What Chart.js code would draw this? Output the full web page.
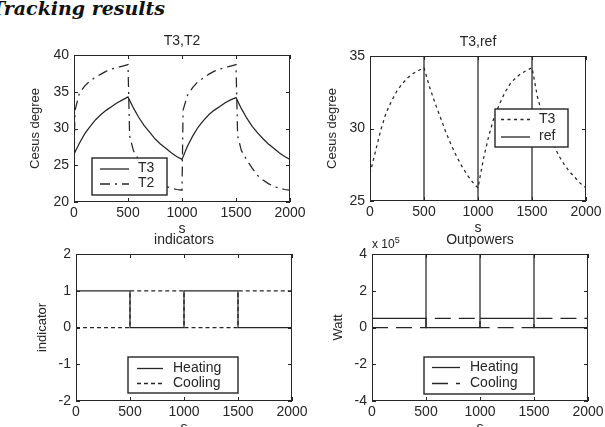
<!DOCTYPE html>
<html>
<head>
<meta charset="utf-8">
<script src="https://cdn.jsdelivr.net/npm/chart.js@4.4.0/dist/chart.umd.min.js"></script>
<style>
  html, body { margin: 0; padding: 0; background: #fff; width: 605px; height: 427px; overflow: hidden; position: relative; }
  #pageTitle { position: absolute; left: -9px; top: -3px; font: bold italic 19px "DejaVu Serif", serif; color: #111; white-space: nowrap; }
  #expo { position: absolute; left: 372px; top: 235px; font: 12px "Liberation Sans", Arial, sans-serif; color: #222; white-space: nowrap; }
  #expo sup { font-size: 9px; }
  canvas { position: absolute; }
</style>
</head>
<body>
<div id="pageTitle">Tracking results</div>
<canvas id="cT3T2"></canvas>
<canvas id="cT3ref"></canvas>
<canvas id="cInd"></canvas>
<canvas id="cPow"></canvas>
<div id="expo">x 10<sup>5</sup></div>

<script>
// time axis ticks (s)
const xTicks = [0, 500, 1000, 1500, 2000];

// T3,T2 plot
const timeS = [0, 50, 100, 150, 200, 250, 300, 350, 400, 450, 500, 550, 600, 650, 700, 750, 800, 850, 900, 950, 1000,
               1050, 1100, 1150, 1200, 1250, 1300, 1350, 1400, 1450, 1500, 1550, 1600, 1650, 1700, 1750, 1800, 1850, 1900, 1950, 2000];
const t3Value = [26.5, 28.0, 29.3, 30.3, 31.2, 31.9, 32.5, 33.0, 33.5, 33.9, 34.3,
                 32.8, 31.5, 30.4, 29.5, 28.6, 27.9, 27.3, 26.7, 26.2, 25.8,
                 27.6, 29.0, 30.2, 31.1, 31.9, 32.5, 33.0, 33.5, 33.9, 34.2,
                 32.7, 31.4, 30.3, 29.4, 28.6, 27.9, 27.3, 26.7, 26.2, 25.8];
const t2Time = [0, 10, 50, 100, 150, 200, 250, 300, 350, 400, 450, 500, 515, 550, 600, 650, 700, 750, 800, 850, 900, 950, 1000,
                1010, 1050, 1100, 1150, 1200, 1250, 1300, 1350, 1400, 1450, 1500, 1515, 1550, 1600, 1650, 1700, 1750, 1800, 1850, 1900, 1950, 2000];
const t2Value = [26.5, 32.5, 34.8, 35.8, 36.5, 37.0, 37.4, 37.8, 38.1, 38.3, 38.5, 38.7,
                 29.0, 27.0, 25.7, 24.6, 23.6, 23.0, 22.5, 22.1, 21.9, 21.7, 21.6,
                 32.5, 34.5, 35.6, 36.4, 36.9, 37.4, 37.8, 38.1, 38.3, 38.5, 38.7,
                 29.0, 27.0, 25.7, 24.6, 23.6, 23.0, 22.5, 22.1, 21.9, 21.7, 21.6];
const yTicksT3T2 = [20, 25, 30, 35, 40];

// T3,ref plot
const t3RefRun = [26.9, 28.4, 29.9, 31.1, 31.9, 32.6, 33.1, 33.5, 33.8, 34.0, 34.2,
                  32.9, 31.8, 30.8, 29.8, 28.9, 28.1, 27.4, 26.8, 26.3, 25.9,
                  27.9, 29.5, 30.8, 31.7, 32.5, 33.1, 33.5, 33.8, 34.0, 34.2,
                  32.2, 30.8, 29.7, 28.9, 28.1, 27.5, 27.0, 26.6, 26.2, 25.9];
const refTime = [0, 0, 500, 500, 1000, 1000, 1500, 1500, 2000, 2000];
const refValue = [25, 35, 35, 25, 25, 35, 35, 25, 25, 35];
const yTicksRef = [25, 30, 35];

// indicators
const indTime = [0, 500, 500, 1000, 1000, 1500, 1500, 2000];
const heatingInd = [1, 1, 0, 0, 1, 1, 0, 0];
const coolingInd = [0, 0, 1, 1, 0, 0, 1, 1];
const yTicksInd = [-2, -1, 0, 1, 2];

// outpowers (x 10^5 W)
const powHeatTime = [0, 0, 0, 500, 500, 500, 1000, 1000, 1000, 1500, 1500, 1500, 2000, 2000, 2000];
const powHeat = [-4.2, 1.1, 0.5, 0.5, 4.2, 0, 0, 4.2, 0.5, 0.5, 4.2, 0, 0, 3.3, -4.2];
const powCoolTime = [0, 500, 500, 1000, 1000, 1500, 1500, 2000];
const powCool = [0, 0, 0.5, 0.5, 0, 0, 0.5, 0.5];
const yTicksPow = [-4, -2, 0, 2, 4];

const INK = '#262626';
const FONT = '"Liberation Sans", Arial, sans-serif';

function pts(xs, ys) {
  return xs.map((x, i) => ({ x: x, y: ys[i] }));
}

function line(label, xs, ys, dash) {
  return { label: label, data: pts(xs, ys), borderColor: INK, borderWidth: 1.25, borderDash: dash, pointRadius: 0, fill: false, tension: 0 };
}

// box, inward ticks and the boxed legend
function framePlugin(spec, ox, oy) {
  return {
    id: 'frame',
    afterDraw(chart) {
      const { ctx, chartArea: a, scales } = chart;
      ctx.save();
      ctx.strokeStyle = INK;
      ctx.lineWidth = 1;
      ctx.setLineDash([]);
      ctx.strokeRect(a.left + 0.5, a.top + 0.5, a.right - a.left - 1, a.bottom - a.top - 1);
      ctx.beginPath();
      scales.x.ticks.forEach(t => {
        const px = Math.round(scales.x.getPixelForValue(t.value)) + 0.5;
        ctx.moveTo(px, a.bottom); ctx.lineTo(px, a.bottom - 4);
        ctx.moveTo(px, a.top); ctx.lineTo(px, a.top + 4);
      });
      scales.y.ticks.forEach(t => {
        const py = Math.round(scales.y.getPixelForValue(t.value)) + 0.5;
        ctx.moveTo(a.left, py); ctx.lineTo(a.left + 4, py);
        ctx.moveTo(a.right, py); ctx.lineTo(a.right - 4, py);
      });
      ctx.stroke();

      const lg = spec.legend;
      ctx.fillStyle = '#fff';
      ctx.fillRect(lg.x - ox, lg.y - oy, lg.w, lg.h);
      ctx.lineWidth = 1.4;
      ctx.strokeRect(lg.x - ox, lg.y - oy, lg.w, lg.h);
      lg.rows.forEach(row => {
        const ds = chart.data.datasets[row.ds];
        ctx.setLineDash(ds.borderDash || []);
        ctx.lineWidth = 1.3;
        ctx.beginPath();
        ctx.moveTo(lg.s0 - ox, row.y - oy + 0.5);
        ctx.lineTo(lg.s1 - ox, row.y - oy + 0.5);
        ctx.stroke();
        ctx.setLineDash([]);
        ctx.fillStyle = INK;
        ctx.font = '14px ' + FONT;
        ctx.textBaseline = 'middle';
        ctx.fillText(ds.label, lg.tx - ox, row.y - oy);
      });
      ctx.restore();
    }
  };
}

function plotChart(id, box, spec) {
  const cv = document.getElementById(id);
  const left = box.l - 75, top = box.t - 28;
  const w = box.r - box.l + 100, h = box.b - box.t + 66;
  cv.width = w; cv.height = h;
  cv.style.left = left + 'px'; cv.style.top = top + 'px';
  cv.style.width = w + 'px'; cv.style.height = h + 'px';

  new Chart(cv, {
    type: 'line',
    data: { datasets: spec.datasets },
    plugins: [framePlugin(spec, left, top)],
    options: {
      responsive: false,
      animation: false,
      devicePixelRatio: 1,
      layout: { padding: { left: 0, right: 25, top: 0, bottom: 0 } },
      plugins: {
        legend: { display: false },
        tooltip: { enabled: false },
        title: {
          display: true, text: spec.title, fullSize: false, color: INK,
          font: { family: FONT, size: 14, weight: 'normal' },
          padding: { top: 5.6, bottom: 5.6 }
        }
      },
      scales: {
        x: {
          type: 'linear', min: xTicks[0], max: xTicks[xTicks.length - 1],
          afterBuildTicks: s => { s.ticks = xTicks.map(v => ({ value: v })); },
          afterFit: s => { s.height = 38; s.paddingLeft = 0; s.paddingRight = 0; },
          grid: { display: false, drawTicks: false },
          border: { display: false },
          ticks: { color: INK, padding: 2.5, maxRotation: 0, font: { family: FONT, size: 14 }, callback: v => String(v) },
          title: { display: true, text: 's', color: INK, font: { family: FONT, size: 14 }, padding: { top: 0, bottom: 2.6 } }
        },
        y: {
          type: 'linear', min: spec.yTicks[0], max: spec.yTicks[spec.yTicks.length - 1],
          afterBuildTicks: s => { s.ticks = spec.yTicks.map(v => ({ value: v })); },
          afterFit: s => { s.width = 75; s.paddingTop = 0; s.paddingBottom = 0; },
          grid: { display: false, drawTicks: false },
          border: { display: false },
          ticks: { color: INK, padding: 5, font: { family: FONT, size: 14 }, callback: v => String(v) },
          title: { display: true, text: spec.yTitle, color: INK, font: { family: FONT, size: 13 }, padding: { top: spec.yTitlePad, bottom: 0 } }
        }
      }
    }
  });
}

plotChart('cT3T2', { l: 74, r: 290, t: 55, b: 202 }, {
  title: 'T3,T2', yTitle: 'Cesus degree', yTitlePad: 29, yTicks: yTicksT3T2,
  datasets: [
    line('T3', timeS, t3Value, []),
    line('T2', t2Time, t2Value, [10, 5, 2, 5])
  ],
  legend: { x: 92, y: 158, w: 75, h: 37, s0: 100, s1: 129, tx: 138, rows: [{ ds: 0, y: 168.5 }, { ds: 1, y: 183.5 }] }
});

plotChart('cT3ref', { l: 370, r: 586, t: 56, b: 201 }, {
  title: 'T3,ref', yTitle: 'Cesus degree', yTitlePad: 30, yTicks: yTicksRef,
  datasets: [
    line('T3', timeS, t3RefRun, [3, 3.5]),
    line('ref', refTime, refValue, [])
  ],
  legend: { x: 495, y: 109, w: 73, h: 38, s0: 501, s1: 530, tx: 539, rows: [{ ds: 0, y: 119 }, { ds: 1, y: 136.5 }] }
});

plotChart('cInd', { l: 76, r: 292, t: 254, b: 401 }, {
  title: 'indicators', yTitle: 'indicator', yTitlePad: 34, yTicks: yTicksInd,
  datasets: [
    line('Heating', indTime, heatingInd, []),
    line('Cooling', indTime, coolingInd, [4, 3])
  ],
  legend: { x: 128, y: 357, w: 110, h: 36, s0: 137, s1: 163, tx: 173, rows: [{ ds: 0, y: 368 }, { ds: 1, y: 383 }] }
});

plotChart('cPow', { l: 372, r: 588, t: 254, b: 401 }, {
  title: 'Outpowers', yTitle: 'Watt', yTitlePad: 34, yTicks: yTicksPow,
  datasets: [
    line('Heating', powHeatTime, powHeat, []),
    line('Cooling', powCoolTime, powCool, [16, 8])
  ],
  legend: { x: 424, y: 357, w: 110, h: 37, s0: 432, s1: 460, tx: 470, rows: [{ ds: 0, y: 367 }, { ds: 1, y: 383 }] }
});
</script>
</body>
</html>
